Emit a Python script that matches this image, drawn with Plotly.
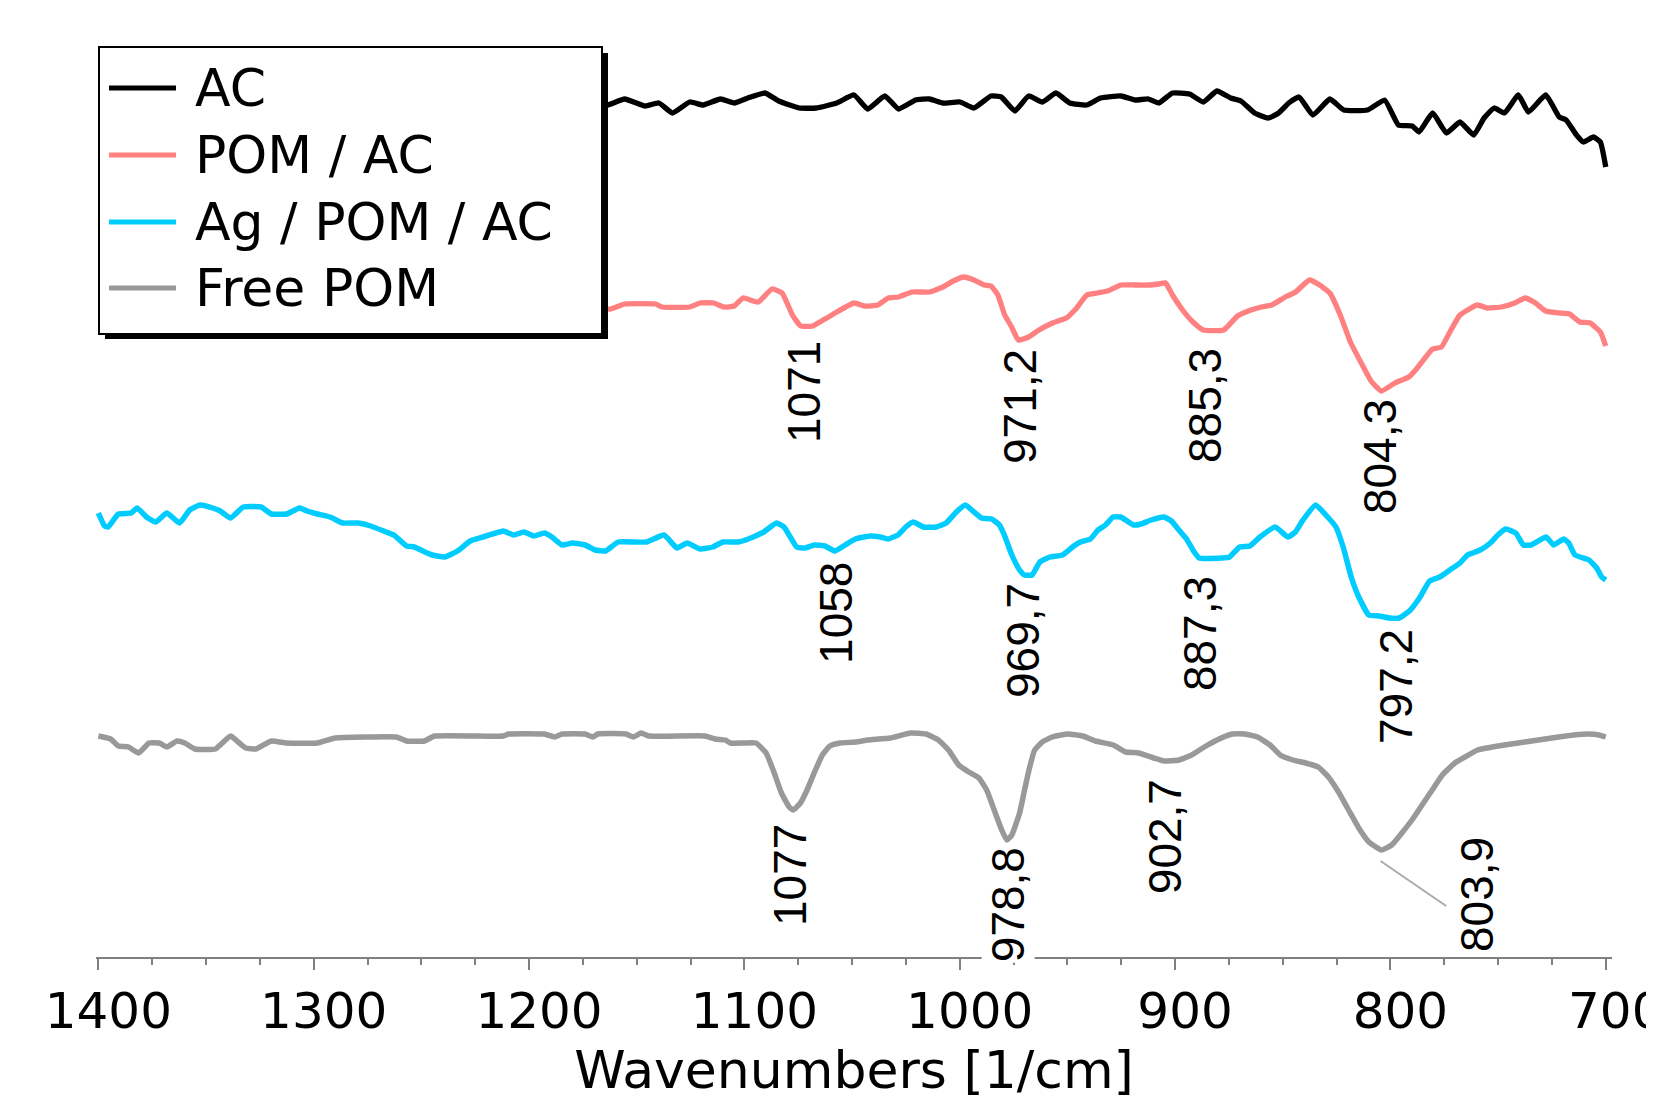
import plotly.graph_objects as go

# ---------------- data (wavenumbers in 1/cm, signal in arbitrary offset units) ----------------
series_names = ["AC", "POM / AC", "Ag / POM / AC", "Free POM"]
series_colors = ["#000000", "#FF8080", "#00CCFF", "#999999"]

ac_wn = [1400, 1390, 1380, 1370, 1360, 1350, 1340, 1330, 1320, 1310,
         1300, 1290, 1280, 1270, 1260, 1250, 1240, 1230, 1220, 1210,
         1200, 1190, 1180, 1170,
         1163.6, 1155.6, 1146.1, 1139.7, 1133.4, 1125.4, 1119.1, 1111.1, 1104.7, 1098.4,
         1090.4, 1084.1, 1074.5, 1066.6, 1057.1, 1049.1, 1042.7, 1034.8, 1028.4, 1020.5,
         1014.1, 1007.8, 999.8, 993.4, 985.5, 980.7, 974.4, 968.0, 961.6, 955.3,
         948.9, 941.0, 934.6, 925.1, 918.7, 912.4, 907.6, 901.2, 893.3, 886.9,
         880.6, 874.2, 869.4, 863.1, 856.7, 851.9, 847.2, 842.4, 836.0, 828.1,
         821.7, 810.6, 802.7, 796.3, 789.9, 786.7, 780.4, 774.0, 767.7, 761.3,
         756.5, 751.8, 747.0, 740.6, 735.9, 727.9, 721.6, 718.4, 713.6, 710.4,
         705.7, 702.5, 700]
ac_val = [85.4, 85.0, 85.6, 85.2, 85.8, 85.3, 85.6, 85.0, 85.5, 85.8,
          85.2, 85.6, 85.1, 85.7, 85.3, 85.5, 85.0, 85.6, 85.2, 85.8,
          85.4, 85.1, 85.6, 85.3,
          85.2, 85.8, 85.1, 85.4, 84.4, 85.5, 85.2, 85.8, 85.4, 85.9,
          86.4, 85.6, 84.9, 84.9, 85.4, 86.2, 84.8, 86.1, 84.8, 85.7,
          85.8, 85.4, 85.5, 84.9, 86.1, 86.0, 84.6, 86.1, 85.5, 86.4,
          85.4, 85.2, 85.9, 86.1, 85.7, 85.8, 85.4, 86.4, 86.3, 85.5,
          86.6, 85.9, 85.6, 84.4, 83.9, 84.4, 85.4, 86.0, 84.2, 85.8,
          84.7, 84.7, 85.7, 83.2, 83.1, 82.5, 84.4, 82.4, 83.5, 82.2,
          83.9, 84.9, 84.4, 86.2, 84.5, 86.2, 84.0, 83.7, 82.2, 81.5,
          82.0, 81.5, 79.0]

pom_wn = [1400, 1390, 1380, 1370, 1360, 1350, 1340, 1330, 1320, 1310,
          1300, 1290, 1280, 1270, 1260, 1250, 1240, 1230, 1220, 1210,
          1200, 1190, 1180, 1170,
          1162.0, 1155.6, 1141.3, 1138.1, 1125.4, 1120.6, 1114.3, 1109.5, 1104.7, 1100.6,
          1093.6, 1087.2, 1082.5, 1077.7, 1073.9, 1068.2, 1061.8, 1057.1, 1049.1, 1044.3,
          1038.0, 1033.2, 1028.4, 1022.1, 1014.1, 1007.8, 1003.0, 998.2, 993.4, 988.7,
          985.5, 982.3, 979.1, 975.9, 972.8, 968.0, 963.2, 956.9, 950.5, 945.7,
          941.0, 936.2, 931.4, 925.1, 918.7, 912.4, 907.6, 904.4, 901.2, 896.5,
          891.7, 886.9, 877.4, 871.0, 864.7, 859.9, 855.1, 848.8, 844.0, 837.6,
          832.9, 828.1, 823.3, 818.6, 813.8, 809.0, 804.2, 797.9, 791.5, 788.3,
          783.6, 780.4, 776.3, 772.4, 767.7, 759.7, 755.0, 748.6, 742.2, 737.5,
          732.7, 727.9, 721.6, 716.8, 712.1, 707.3, 702.5, 700]
pom_val = [66.6, 66.3, 66.5, 66.0, 66.2, 65.8, 66.0, 65.6, 65.8, 65.5,
           65.7, 65.4, 65.6, 65.3, 65.5, 65.2, 65.4, 65.1, 65.3, 65.0,
           65.2, 64.9, 65.1, 64.9,
           64.8, 65.3, 65.3, 65.0, 65.0, 65.4, 65.4, 65.0, 65.1, 65.9,
           65.5, 66.8, 66.4, 64.2, 63.1, 63.1, 63.9, 64.5, 65.4, 65.1,
           65.2, 65.9, 66.0, 66.5, 66.5, 67.0, 67.6, 68.0, 67.7, 67.2,
           67.1, 66.2, 64.2, 63.0, 61.7, 62.0, 62.7, 63.4, 63.9, 64.9,
           66.2, 66.4, 66.6, 67.2, 67.2, 67.2, 67.3, 67.4, 66.2, 64.7,
           63.5, 62.7, 62.7, 64.1, 64.7, 65.0, 65.2, 66.0, 66.5, 67.7,
           67.2, 66.4, 64.2, 61.5, 59.5, 57.6, 56.6, 57.4, 58.0, 58.7,
           60.0, 60.8, 61.0, 62.5, 64.2, 65.2, 64.9, 65.0, 65.4, 65.9,
           65.4, 64.6, 64.4, 64.3, 63.5, 63.4, 62.5, 61.1]

ag_wn = [1400, 1397.1, 1395.5, 1390.7, 1384.8, 1382.0, 1377.7, 1373.4, 1368.2, 1362.3,
         1357.6, 1352.8, 1346.9, 1343.4, 1338.6, 1332.7, 1324.4, 1319.7, 1312.6, 1306.6,
         1303.1, 1298.3, 1292.4, 1286.5, 1279.4, 1273.5, 1266.4, 1262.8, 1256.9, 1253.3,
         1245.0, 1239.1, 1233.2, 1227.3, 1221.4, 1215.4, 1211.9, 1207.1, 1202.4, 1197.7,
         1192.9, 1189.4, 1184.6, 1179.9, 1174.0, 1169.2, 1164.5, 1158.6, 1145.5, 1137.3,
         1131.3, 1126.6, 1120.7, 1114.7, 1110.0, 1102.9, 1098.2, 1091.0, 1085.1, 1081.6,
         1075.7, 1072.1, 1067.4, 1062.6, 1057.9, 1053.2, 1048.4, 1041.6, 1036.9, 1033.4,
         1028.7, 1025.1, 1021.6, 1016.9, 1011.0, 1006.3, 1001.6, 997.4, 993.4, 989.9,
         985.2, 981.6, 979.3, 975.8, 972.2, 969.9, 966.4, 962.8, 958.1, 952.3,
         947.6, 944.0, 939.3, 935.8, 932.3, 928.8, 925.2, 919.3, 915.8, 911.1,
         905.2, 901.7, 898.2, 894.7, 891.1, 888.8, 878.2, 874.7, 870.0, 865.3,
         860.6, 853.5, 847.6, 844.1, 840.6, 834.7, 830.0, 825.3, 821.8, 818.2,
         814.7, 810.0, 805.3, 800.6, 795.9, 791.2, 786.5, 781.8, 777.1, 772.4,
         767.7, 764.2, 758.3, 753.6, 750.1, 746.5, 741.8, 738.3, 734.8, 727.7,
         724.2, 719.5, 717.2, 714.3, 707.8, 704.2, 701.9, 700]
ag_val = [44.4, 43.1, 43.0, 44.3, 44.4, 44.9, 44.0, 43.5, 44.4, 43.4,
          44.7, 45.2, 44.9, 44.6, 43.9, 45.0, 45.0, 44.3, 44.3, 44.9,
          44.6, 44.3, 44.0, 43.4, 43.4, 43.1, 42.5, 42.2, 41.1, 41.0,
          40.2, 40.0, 40.6, 41.6, 42.0, 42.4, 42.6, 42.2, 42.5, 42.1,
          42.4, 42.0, 41.2, 41.4, 41.2, 40.7, 40.6, 41.5, 41.5, 42.2,
          40.9, 41.4, 40.8, 41.0, 41.5, 41.5, 41.8, 42.5, 43.4, 43.0,
          41.0, 40.9, 41.2, 41.1, 40.6, 41.2, 41.8, 42.1, 42.0, 41.8,
          42.2, 43.0, 43.5, 43.0, 43.0, 43.4, 44.5, 45.2, 44.5, 43.9,
          43.8, 43.2, 42.2, 40.2, 38.7, 38.2, 38.2, 39.5, 40.0, 40.2,
          41.0, 41.5, 41.8, 42.7, 43.2, 44.0, 44.0, 43.2, 43.3, 43.7,
          44.0, 43.6, 42.7, 41.8, 40.5, 39.9, 39.9, 40.0, 41.0, 41.1,
          42.0, 43.0, 42.0, 42.5, 43.7, 45.2, 44.2, 43.0, 40.9, 38.0,
          36.0, 34.2, 34.1, 33.9, 33.9, 34.6, 35.9, 37.6, 38.0, 38.7,
          39.4, 40.2, 40.7, 41.4, 42.2, 42.8, 42.4, 41.2, 41.2, 42.0,
          41.2, 41.8, 41.4, 40.2, 39.7, 38.9, 38.0, 37.7]

free_wn = [1400, 1394.3, 1390.7, 1386.0, 1381.3, 1376.5, 1371.8, 1368.2, 1363.5, 1359.9,
           1355.2, 1345.7, 1338.6, 1335.1, 1331.5, 1326.8, 1319.7, 1312.6, 1298.3, 1290.1,
           1275.8, 1261.6, 1256.9, 1248.6, 1243.9, 1211.9, 1209.5, 1192.9, 1188.2, 1184.6,
           1174.0, 1170.4, 1168.0, 1155.0, 1151.5, 1147.9, 1144.4, 1118.3, 1113.6, 1108.8,
           1106.5, 1100.5, 1094.6, 1089.9, 1086.3, 1082.8, 1079.2, 1077.3, 1074.0, 1070.9,
           1067.4, 1063.8, 1060.3, 1055.5, 1048.4, 1042.5, 1032.2, 1022.8, 1015.7, 1009.9,
           1005.2, 1000.5, 995.8, 991.1, 987.5, 984.0, 980.5, 978.1, 975.8, 972.2,
           969.9, 967.5, 965.2, 961.7, 957.0, 949.9, 942.9, 937.0, 928.7, 922.9,
           917.0, 909.9, 905.2, 898.2, 892.3, 886.4, 880.5, 873.5, 867.6, 861.7,
           855.9, 851.2, 845.3, 839.4, 833.5, 828.8, 824.1, 819.4, 814.7, 810.0,
           804.1, 799.4, 794.7, 790.0, 785.3, 780.6, 775.9, 770.1, 765.4, 759.5,
           750.1, 740.7, 731.3, 721.9, 714.8, 707.8, 703.1, 700]
free_val = [22.1, 21.8, 21.1, 21.0, 20.4, 21.4, 21.4, 21.0, 21.6, 21.4,
            20.8, 20.8, 22.1, 21.5, 20.9, 20.8, 21.6, 21.4, 21.4, 21.9,
            22.0, 22.0, 21.6, 21.6, 22.1, 22.1, 22.3, 22.3, 22.0, 22.3,
            22.3, 22.0, 22.3, 22.3, 22.0, 22.4, 22.1, 22.1, 21.8, 21.7,
            21.4, 21.4, 21.4, 20.4, 18.5, 16.4, 15.0, 14.7, 15.4, 16.7,
            18.5, 20.2, 21.1, 21.4, 21.5, 21.7, 21.9, 22.4, 22.3, 21.7,
            20.7, 19.2, 18.5, 17.9, 16.7, 14.7, 12.7, 11.7, 12.2, 14.4,
            16.7, 19.0, 20.7, 21.5, 22.0, 22.3, 22.1, 21.6, 21.2, 20.5,
            20.4, 19.9, 19.6, 19.7, 20.2, 21.0, 21.7, 22.3, 22.3, 22.0,
            21.2, 20.2, 19.7, 19.4, 19.0, 18.0, 16.5, 14.7, 12.9, 11.5,
            10.7, 11.2, 12.4, 13.7, 15.2, 16.7, 18.2, 19.4, 20.0, 20.7,
            21.1, 21.4, 21.7, 22.0, 22.2, 22.3, 22.2, 22.0]

# peak labels: text, wavenumber position, signal position
peak_text = ["1071", "971,2", "885,3", "804,3",
             "1058", "969,7", "887,3", "797,2",
             "1077", "978,8", "902,7", "803,9"]
peak_x = [1072.3, 972.0, 886.1, 804.8,
          1057.5, 970.6, 888.4, 797.4,
          1078.8, 977.5, 904.6, 759.8]
peak_y = [56.5, 55.0, 55.1, 50.0,
          34.4, 31.6, 32.3, 27.0,
          8.2, 5.2, 12.0, 6.3]

# leader line for the 803,9 label
leader_x = [804.6, 774.1]
leader_y = [9.6, 5.1]

tick_vals = [1400, 1300, 1200, 1100, 1000, 900, 800, 700]
tick_text = ["1400", "1300", "1200", "1100", "1000", "900", "800", "700"]

# ---------------- figure ----------------
W, H = 1654, 1097
OFF = 8                      # default page margin of the html body
PL, PR, PT, PB = 96, 1612, 37, 957   # plot area in page pixels
ML, MR, MT, MB = PL - OFF, W - (PR - OFF), PT - OFF, H - (PB - OFF)
PW, PH = PR - PL, PB - PT


def pxx(p):
    return (p - PL) / PW


def pxy(p):
    return (PB - p) / PH


fig = go.Figure()
all_x = [ac_wn, pom_wn, ag_wn, free_wn]
all_y = [ac_val, pom_val, ag_val, free_val]
widths = [5.3, 5.3, 5.5, 5.5]
for name, xs, ys, col, w in zip(series_names, all_x, all_y, series_colors, widths):
    assert len(xs) == len(ys), name
    fig.add_trace(go.Scatter(x=xs, y=ys, mode="lines", name=name,
                             line=dict(color=col, width=w, shape="spline", smoothing=0.4),
                             showlegend=False))

shapes = []
# leader line
shapes.append(dict(type="line", xref="x", yref="y",
                   x0=leader_x[0], y0=leader_y[0], x1=leader_x[1], y1=leader_y[1],
                   line=dict(color="#AAAAAA", width=2), layer="above"))
# legend shadow + box
shapes.append(dict(type="rect", xref="paper", yref="paper",
                   x0=pxx(105), x1=pxx(608), y0=pxy(339), y1=pxy(53),
                   fillcolor="black", line=dict(width=0), layer="above"))
shapes.append(dict(type="rect", xref="paper", yref="paper",
                   x0=pxx(99), x1=pxx(602), y0=pxy(334), y1=pxy(47),
                   fillcolor="white", line=dict(color="black", width=2), layer="above"))

annotations = []
leg_rows = [88, 155, 222, 288]
for name, col, yy in zip(series_names, series_colors, leg_rows):
    shapes.append(dict(type="line", xref="paper", yref="paper",
                       x0=pxx(109), x1=pxx(176), y0=pxy(yy), y1=pxy(yy),
                       line=dict(color=col, width=5), layer="above"))
    annotations.append(dict(xref="paper", yref="paper", x=pxx(193), y=pxy(yy),
                            xanchor="left", yanchor="middle", text=name, showarrow=False,
                            font=dict(family="DejaVu Sans", size=52, color="black")))

for t, x, y in zip(peak_text, peak_x, peak_y):
    annotations.append(dict(xref="x", yref="y", x=x, y=y, text=t, textangle=-90,
                            showarrow=False, bgcolor="white", borderpad=0,
                            xanchor="center", yanchor="middle",
                            font=dict(family="Liberation Sans, Arial", size=46,
                                      color="black")))

fig.update_layout(
    template="none",
    width=W, height=H,
    margin=dict(l=ML, r=MR, t=MT, b=MB, autoexpand=False),
    paper_bgcolor="white", plot_bgcolor="white",
    shapes=shapes, annotations=annotations,
    showlegend=False,
    xaxis=dict(range=[1401.1, 697.1], showgrid=False, zeroline=False, automargin=False,
               showline=True, linecolor="#808080", linewidth=2,
               ticks="outside", ticklen=11, tickwidth=2, tickcolor="#808080",
               tickvals=tick_vals, ticktext=tick_text,
               minor=dict(dtick=25, ticks="outside", ticklen=6, tickwidth=2, tickcolor="#808080",
                          showgrid=False),
               tickfont=dict(family="DejaVu Sans", size=50, color="black"),
               ticklabelshift=-10, ticklabelstandoff=-2, ticklabeloverflow="allow",
               title=dict(text="Wavenumbers [1/cm]", standoff=12,
                          font=dict(family="DejaVu Sans", size=52, color="black"))),
    yaxis=dict(range=[0, PH / 10], visible=False, fixedrange=True, automargin=False),
)

fig.write_html("out.html")
